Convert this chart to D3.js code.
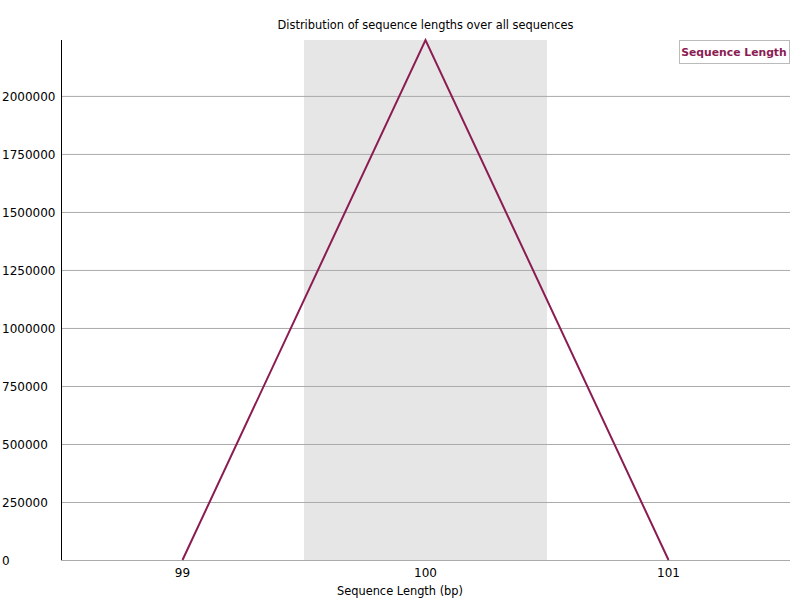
<!DOCTYPE html>
<html>
<head>
<meta charset="utf-8">
<script src="https://cdn.jsdelivr.net/npm/d3@7"></script>
<style>
  body { margin: 0; background: #fff; }
  text { font-family: "DejaVu Sans", sans-serif; }
</style>
</head>
<body>
<script>
// sequence length distribution
const lengths = ['99', '100', '101']
const counts = [0, 2241000, 0]
const yTicks = [0, 250000, 500000, 750000, 1000000, 1250000, 1500000, 1750000, 2000000]

const w = 800
const h = 600
const margin = { top: 40, bottom: 40, left: 61, right: 10 }
const lineColor = '#8b1c52'

const svg = d3.select('body')
  .append('svg')
  .attr('width', w)
  .attr('height', h)

const xScale = d3.scaleBand()
  .domain(lengths)
  .range([margin.left, w - margin.right])

const yScale = d3.scaleLinear()
  .domain([0, d3.max(counts)])
  .range([h - margin.bottom, margin.top])

// alternate band shading
svg.selectAll('rect.band')
  .data(lengths.filter((d, i) => i % 2 === 1))
  .enter()
  .append('rect')
  .attr('class', 'band')
  .attr('x', d => xScale(d))
  .attr('y', margin.top)
  .attr('width', xScale.bandwidth())
  .attr('height', h - margin.bottom - margin.top)
  .style('fill', '#e6e6e6')

// horizontal grid + y labels
const yAxis = d3.axisLeft(yScale)
  .tickValues(yTicks)
  .tickSize(-(w - margin.left - margin.right))
  .tickFormat(d3.format('d'))

const yG = svg.append('g')
  .attr('transform', `translate(${margin.left},0)`)
  .call(yAxis)
yG.select('.domain').remove()
yG.selectAll('.tick line').style('stroke', '#aaa')
yG.selectAll('.tick text')
  .attr('x', 2 - margin.left)
  .attr('text-anchor', 'start')
  .attr('dy', '0.35em')
  .style('font-size', '12px')
  .style('fill', '#000')

// y axis line
svg.append('line')
  .attr('x1', margin.left + 0.5)
  .attr('x2', margin.left + 0.5)
  .attr('y1', margin.top)
  .attr('y2', h - margin.bottom)
  .style('stroke', '#000')

// x labels
const xAxis = d3.axisBottom(xScale).tickSize(0).tickPadding(8)
const xG = svg.append('g')
  .attr('transform', `translate(0,${h - margin.bottom})`)
  .call(xAxis)
xG.select('.domain').remove()
xG.selectAll('.tick text').style('font-size', '12px').style('fill', '#000')

// line
const line = d3.line()
  .x((d, i) => xScale(lengths[i]) + xScale.bandwidth() / 2)
  .y(d => yScale(d))

svg.append('path')
  .datum(counts)
  .attr('d', line)
  .style('fill', 'none')
  .style('stroke', lineColor)
  .style('stroke-width', 2)

// title + x label
svg.append('text')
  .attr('x', (margin.left + w - margin.right) / 2)
  .attr('y', 29)
  .attr('text-anchor', 'middle')
  .style('font-size', '11.4px')
  .text('Distribution of sequence lengths over all sequences')

svg.append('text')
  .attr('x', w / 2)
  .attr('y', 595)
  .attr('text-anchor', 'middle')
  .style('font-size', '11.4px')
  .text('Sequence Length (bp)')

// legend
const legend = svg.append('g')
legend.append('rect')
  .attr('x', 679.5)
  .attr('y', 40.5)
  .attr('width', 110)
  .attr('height', 23)
  .style('fill', '#fff')
  .style('stroke', '#bbb')
legend.append('text')
  .attr('x', 734)
  .attr('y', 56)
  .attr('text-anchor', 'middle')
  .style('font-size', '10.8px')
  .style('font-weight', 'bold')
  .style('fill', lineColor)
  .text('Sequence Length')
</script>
</body>
</html>
